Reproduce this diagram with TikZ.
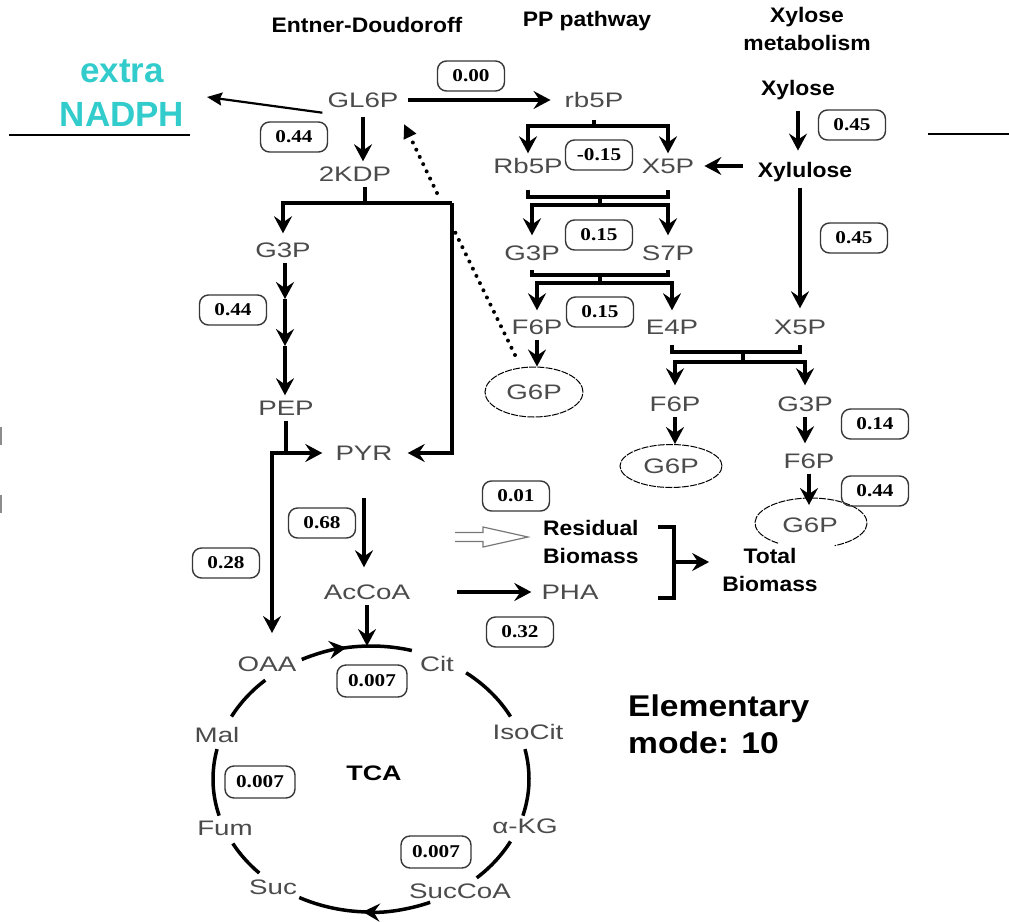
\documentclass[tikz,border=0pt]{standalone}
\usepackage{fontspec}
\usetikzlibrary{arrows.meta,shapes.geometric,calc}
\newfontfamily\grayfam[FakeStretch=1.32]{Liberation Sans}
\newfontfamily\boldfam[FakeStretch=1.09]{Liberation Sans}
\newfontfamily\numfam[FakeStretch=1.18]{Liberation Serif}
\newfontfamily\tcafam[FakeStretch=1.28]{Liberation Sans}
\newfontfamily\elemfam[FakeStretch=1.12]{Liberation Sans}
\newfontfamily\slidefam{Liberation Sans}
\definecolor{labgray}{RGB}{75,75,75}
\definecolor{boxgray}{RGB}{55,55,55}
\definecolor{nadphcol}{RGB}{51,204,204}
\definecolor{hollowgray}{RGB}{120,120,120}
\definecolor{markgray}{RGB}{140,140,140}
\begin{document}
\begin{tikzpicture}[x=1pt,y=-1pt,
 lab/.style={font=\grayfam\fontsize{21}{25}\selectfont, text=labgray, inner sep=5pt, text height=15pt, text depth=0pt},
 bl/.style={font=\boldfam\bfseries\fontsize{21}{28}\selectfont, inner sep=0pt, align=center},
 val/.style={draw=boxgray, line width=1.4pt, rounded corners=9pt, minimum width=67pt, minimum height=30pt, inner sep=0pt, font=\numfam\bfseries\fontsize{18}{20}\selectfont},
 valw/.style={val, minimum width=70pt, minimum height=32pt},
 arr/.style={line width=3.5pt, -{Stealth[length=17pt,width=18pt,inset=6pt]}},
 ln/.style={line width=3.5pt},
 ellline/.style={draw=black, line width=1pt, dash pattern=on 7pt off 1.2pt},
 g6p/.style={ellipse, ellline, inner sep=0pt, font=\grayfam\fontsize{21}{25}\selectfont, text=labgray},
 dots/.style={line width=4pt, line cap=round, dash pattern=on 0pt off 8pt},
]
\fill[white] (0,0) rectangle (1009,921);
\useasboundingbox (0,0) rectangle (1009,921);

% slide fragments
\draw[line width=2.5pt] (9,135) -- (190,135);
\draw[line width=2.5pt] (928,134) -- (1009,134);
\fill[markgray] (0,427) rectangle (2,445);
\fill[markgray] (0,495) rectangle (2,513);
\node[font=\slidefam\bfseries\fontsize{35}{44}\selectfont, text=nadphcol, align=center, inner sep=0pt] (nadph) at (122,93) {extra\\NADPH};

% headers
\node[bl] (hED) at (367,25) {Entner-Doudoroff};
\node[bl] (hPP) at (587,21) {PP pathway};
\node[bl] (hXy) at (807,29) {Xylose\\metabolism};

% gray metabolite labels
\node[lab] (GL6P) at (363,100) {GL6P};
\node[lab] (rb5P) at (594,100) {rb5P};
\node[lab] (KDP) at (355,174) {2KDP};
\node[lab] (Rb5P) at (528,166) {Rb5P};
\node[lab] (X5Pa) at (668,166) {X5P};
\node[lab] (G3Pa) at (283,250) {G3P};
\node[lab] (G3Pb) at (532,253) {G3P};
\node[lab] (S7P) at (668,253) {S7P};
\node[lab] (F6Pa) at (537,327) {F6P};
\node[lab] (E4P) at (672,327) {E4P};
\node[lab] (X5Pb) at (800,327) {X5P};
\node[lab] (PEP) at (286,408) {PEP};
\node[lab] (PYR) at (364,453) {PYR};
\node[lab] (F6Pb) at (675,404) {F6P};
\node[lab] (G3Pc) at (805,404) {G3P};
\node[lab] (F6Pc) at (809,461) {F6P};
\node[lab] (AcCoA) at (367,592) {AcCoA};
\node[lab] (PHA) at (570,592) {PHA};
\node[lab] (OAA) at (267,664) {OAA};
\node[lab] (Cit) at (437,664) {Cit};
\node[lab] (IsoCit) at (528,732) {IsoCit};
\node[lab] (Mal) at (217,735) {Mal};
\node[lab] (Fum) at (225,828) {Fum};
\node[lab] (aKG) at (525,826) {α-KG};
\node[lab] (Suc) at (273,887) {Suc};
\node[lab] (SucCoA) at (460,891) {SucCoA};

% G6P ellipses
\node[g6p, minimum width=98pt, minimum height=50pt] (G6Pa) at (534,392) {G6P};
\node[g6p, minimum width=102pt, minimum height=43pt] (G6Pb) at (671,466) {G6P};
\node[lab] (G6Pc) at (810,525) {G6P};
\coordinate (g6pcC) at (811,523);
\draw[ellline] ([shift={(126:56 and 25)}]g6pcC) arc[start angle=126, end angle=425, x radius=56, y radius=25];

% bold labels
\node[bl, anchor=base] (Xylose) at (798,95) {Xylose};
\node[bl, anchor=base] (Xylulose) at (805,177) {Xylulose};
\node[bl, align=left, anchor=west] (resid) at (543,542) {Residual\\Biomass};
\node[bl] (total) at (770,570) {Total\\Biomass};
\node[font=\tcafam\bfseries\fontsize{21}{25}\selectfont, inner sep=0pt] (tca) at (374,773) {TCA};
\node[font=\elemfam\bfseries\fontsize{30}{37}\selectfont, align=left, anchor=west, inner sep=0pt] (elem) at (628,724) {Elementary\\mode: 10};

% value boxes
\node[val] (b000) at (471,76) {0.00};
\node[val] (b044a) at (294,137) {0.44};
\node[val] (b015m) at (599,155) {-0.15};
\node[val] (b045a) at (852,125) {0.45};
\node[val] (b045b) at (854,238) {0.45};
\node[val] (b015a) at (599,235) {0.15};
\node[val] (b044b) at (233,310) {0.44};
\node[val] (b015b) at (600,312) {0.15};
\node[val] (b014) at (875,424) {0.14};
\node[val] (b044c) at (875,491) {0.44};
\node[val] (b001) at (516,496) {0.01};
\node[val] (b068) at (322,523) {0.68};
\node[val] (b028) at (226,563) {0.28};
\node[val] (b032) at (520,632) {0.32};
\node[valw] (b007a) at (372,681) {0.007};
\node[valw] (b007b) at (260,782) {0.007};
\node[valw] (b007c) at (436,852) {0.007};

% GL6P connectors
\coordinate (nadtip) at (207,97);
\draw[line width=2.2pt, -{Stealth[length=15pt,width=13pt,inset=2pt]}] (GL6P.south west) -- (nadtip);
\draw[arr, shorten <=4pt, shorten >=9pt] (GL6P.east) -- (rb5P.west);
\draw[arr, shorten <=4pt] (GL6P.south) -- (GL6P.south |- KDP.north);

% dotted G6P -> GL6P
\coordinate (dotA) at (455,232);
\coordinate (dotB) at (437,193);
\draw[dots] ([shift={(-19,-37)}]G6Pa.center) -- (dotA);
\draw[dots, -{Triangle[length=14pt,width=13pt]}] (dotB) -- ([shift={(41,24)}]GL6P.center);

% Entner-Doudoroff branch
\coordinate (jED) at (365,203);
\coordinate (jEDr) at (452,203);
\draw[ln] (KDP.south -| jED) -- (jED);
\draw[arr, shorten >=4pt] (jEDr) -| (G3Pa.north);
\draw[arr, shorten >=10pt] (jEDr) |- (PYR.east);
\coordinate (m1) at (285,299);
\coordinate (m2) at (285,346);
\draw[arr] (G3Pa.south -| m1) -- (m1);
\draw[arr] (m1) -- (m2);
\draw[arr] (m2) -- (m2 |- PEP.north);
\draw[arr, shorten >=8pt] (PEP.south) |- (PYR.west);
\coordinate (oaatip) at (272,633);
\draw[arr] (PEP.south |- PYR.west) -| (oaatip);
\draw[arr, shorten <=32pt, shorten >=12pt] (PYR.south) -- (PYR.south |- AcCoA.north);
\coordinate (tcatop) at (367,646);
\draw[arr] (AcCoA.south) -- (AcCoA.south |- tcatop);
\draw[arr, shorten <=42pt, shorten >=5pt] (AcCoA.east) -- (PHA.west);

% PP pathway
\coordinate (jrb) at (596,126);
\draw[ln, shorten <=7pt] (rb5P.south) -- (rb5P.south |- jrb);
\draw[arr] (rb5P.south |- jrb) -| (Rb5P.north);
\draw[arr] (rb5P.south |- jrb) -| (X5Pa.north);
\coordinate (p1t) at (600,197);
\coordinate (p1b) at (600,205);
\draw[ln] ([yshift=-11pt]Rb5P.south) -- (Rb5P.south |- p1t) -- (X5Pa.south |- p1t) -- ([yshift=-11pt]X5Pa.south);
\draw[ln] (p1t) -- (p1b);
\draw[arr, shorten >=5pt] (p1b) -| (G3Pb.north);
\draw[arr, shorten >=5pt] (p1b) -| (S7P.north);
\coordinate (p2t) at (600,275);
\coordinate (p2b) at (600,283);
\draw[ln] ([yshift=-4pt]G3Pb.south) -- (G3Pb.south |- p2t) -- (S7P.south |- p2t) -- ([yshift=-4pt]S7P.south);
\draw[ln] (p2t) -- (p2b);
\draw[arr, shorten >=4pt] (p2b) -| (F6Pa.north);
\draw[arr, shorten >=4pt] (p2b) -| (E4P.north);
\draw[arr] (F6Pa.south) -- (F6Pa.south |- G6Pa.north);
\coordinate (p3t) at (743,352);
\coordinate (p3b) at (743,362);
\draw[ln] ([yshift=-5pt]E4P.south) -- (E4P.south |- p3t) -- (X5Pb.south |- p3t) -- ([yshift=-5pt]X5Pb.south);
\draw[ln] (p3t) -- (p3b);
\draw[arr, shorten >=6pt] (p3b) -| (F6Pb.north);
\draw[arr, shorten >=6pt] (p3b) -| (G3Pc.north);
\draw[arr] (F6Pb.south) -- (F6Pb.south |- G6Pb.north);
\draw[arr, shorten >=5pt] (G3Pc.south) -- (G3Pc.south |- F6Pc.north);
\coordinate (g6pctip) at (809,505);
\draw[arr] (F6Pc.south) -- (F6Pc.south |- g6pctip);

% xylose
\draw[arr, shorten <=11pt, shorten >=11pt] (Xylose.south) -- (Xylose.south |- Xylulose.north);
\draw[arr, shorten <=15pt, shorten >=5pt] (X5Pa.east -| Xylulose.west) -- (X5Pa.east);
\draw[arr, shorten <=6pt, shorten >=6pt] (X5Pb.north |- Xylulose.south) -- (X5Pb.north);

% biomass
\draw[hollowgray, line width=1.2pt] (455,532.5) -- (483,532.5) -- (483,527) -- (528,537) -- (483,547) -- (483,541.5) -- (455,541.5);
\coordinate (brT) at (658,527);
\coordinate (brB) at (658,598);
\coordinate (brM) at (674,562);
\draw[ln] (brT) -- ++(16,0) |- (brB);
\draw[arr, shorten >=13pt] (brM) -- (total.west |- brM);

% TCA cycle
\coordinate (tcac) at (371,779);
\draw[arr] ([shift={(-116:158 and 133)}]tcac) arc[start angle=-116, end angle=-99, x radius=158, y radius=133];
\draw[ln] ([shift={(-101:158 and 133)}]tcac) arc[start angle=-101, end angle=-75, x radius=158, y radius=133];
\draw[ln] ([shift={(-53:158 and 133)}]tcac) arc[start angle=-53, end angle=-28, x radius=158, y radius=133];
\draw[ln] ([shift={(-13:158 and 133)}]tcac) arc[start angle=-13, end angle=16, x radius=158, y radius=133];
\draw[ln] ([shift={(28:158 and 133)}]tcac) arc[start angle=28, end angle=48, x radius=158, y radius=133];
\draw[arr] ([shift={(68:158 and 133)}]tcac) arc[start angle=68, end angle=93, x radius=158, y radius=133];
\draw[ln] ([shift={(91:158 and 133)}]tcac) arc[start angle=91, end angle=117, x radius=158, y radius=133];
\draw[ln] ([shift={(135:158 and 133)}]tcac) arc[start angle=135, end angle=151, x radius=158, y radius=133];
\draw[ln] ([shift={(164:158 and 133)}]tcac) arc[start angle=164, end angle=193, x radius=158, y radius=133];
\draw[ln] ([shift={(208:158 and 133)}]tcac) arc[start angle=208, end angle=228, x radius=158, y radius=133];
\end{tikzpicture}
\end{document}
